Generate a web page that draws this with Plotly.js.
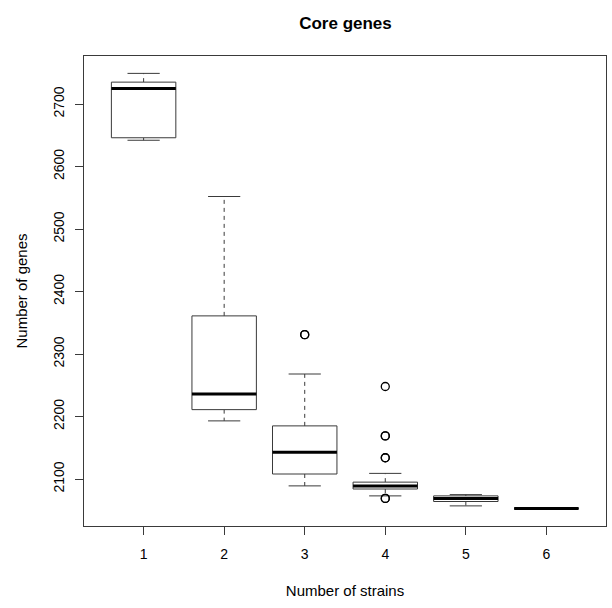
<!DOCTYPE html>
<html>
<head>
<meta charset="utf-8">
<script src="https://cdn.plot.ly/plotly-3.0.1.min.js"></script>
<style>html,body{margin:0;padding:0;background:#fff;}</style>
</head>
<body>
<div id="chart" style="width:612px;height:608px;"></div>
<script>
// Data (Core genes vs number of strains)
const strains = [1, 2, 3, 4, 5, 6];
const tickLabels = ["1", "2", "3", "4", "5", "6"];
const lowerWhisker = [2642, 2193, 2089, 2073, 2057, 2053];
const q1 = [2646, 2211, 2108, 2084, 2064, 2053];
const median = [2725, 2236, 2143, 2089, 2069, 2053];
const q3 = [2735, 2361, 2185, 2095, 2073, 2053];
const upperWhisker = [2749, 2552, 2268, 2109, 2075, 2053];
const outlierStrains = [3, 3, 4, 4, 4, 4, 4, 4, 4];
const outlierGenes = [2331, 2331, 2248, 2169, 2169, 2134, 2134, 2069, 2069];
const yTicks = [2100, 2200, 2300, 2400, 2500, 2600, 2700];

const halfBox = 0.4, halfCap = 0.2;
const boxX = [], boxY = [], whX = [], whY = [], capX = [], capY = [], medX = [], medY = [];
strains.forEach((s, i) => {
  boxX.push(s - halfBox, s + halfBox, s + halfBox, s - halfBox, s - halfBox, null);
  boxY.push(q1[i], q1[i], q3[i], q3[i], q1[i], null);
  whX.push(s, s, null, s, s, null);
  whY.push(q3[i], upperWhisker[i], null, q1[i], lowerWhisker[i], null);
  capX.push(s - halfCap, s + halfCap, null, s - halfCap, s + halfCap, null);
  capY.push(upperWhisker[i], upperWhisker[i], null, lowerWhisker[i], lowerWhisker[i], null);
  medX.push(s - halfBox, s + halfBox, null);
  medY.push(median[i], median[i], null);
});

const lineCol = '#3a3a3a';
const traces = [
  {type: 'scatter', mode: 'lines', x: whX, y: whY, line: {color: lineCol, width: 1, dash: '4px,4px'}, hoverinfo: 'skip'},
  {type: 'scatter', mode: 'lines', x: capX, y: capY, line: {color: lineCol, width: 1}, hoverinfo: 'skip'},
  {type: 'scatter', mode: 'lines', x: boxX, y: boxY, fill: 'toself', fillcolor: '#ffffff', line: {color: lineCol, width: 1}, hoverinfo: 'skip'},
  {type: 'scatter', mode: 'lines', x: medX, y: medY, line: {color: '#000000', width: 3}, hoverinfo: 'skip'},
  {type: 'scatter', mode: 'markers', x: outlierStrains, y: outlierGenes,
   marker: {symbol: 'circle-open', size: 8, color: '#000000', line: {width: 1.3, color: '#000000'}}, hoverinfo: 'skip'}
];

const fontFam = '"Liberation Sans", Arial, Helvetica, sans-serif';
const layout = {
  width: 612, height: 608,
  paper_bgcolor: '#ffffff', plot_bgcolor: '#ffffff',
  showlegend: false,
  margin: {l: 84, r: 6, t: 56, b: 82},
  font: {family: fontFam, size: 14, color: '#000000'},
  title: {text: '<b>Core genes</b>', font: {family: fontFam, size: 17, color: '#000000'},
          x: 0.5645, xref: 'container', xanchor: 'center', y: 0.962, yref: 'container', yanchor: 'middle'},
  xaxis: {
    range: [0.26, 6.74], tickvals: strains, ticktext: tickLabels,
    ticks: 'outside', ticklen: 8, tickcolor: lineCol, tickwidth: 1,
    showline: true, mirror: true, linecolor: lineCol, linewidth: 1,
    showgrid: false, zeroline: false, ticklabelstandoff: 7,
    tickfont: {size: 14},
    title: {text: 'Number of strains', font: {size: 15}, standoff: 24}
  },
  yaxis: {
    range: [2024.8, 2776.8], tickvals: yTicks, ticktext: yTicks.map(String),
    ticks: 'outside', ticklen: 8, tickcolor: lineCol, tickwidth: 1, tickangle: -90,
    showline: true, mirror: true, linecolor: lineCol, linewidth: 1,
    showgrid: false, zeroline: false, ticklabelstandoff: 5,
    tickfont: {size: 14},
    title: {text: 'Number of genes', font: {size: 15}, standoff: 20}
  }
};

Plotly.newPlot('chart', traces, layout, {displayModeBar: false, staticPlot: true});
</script>
</body>
</html>
